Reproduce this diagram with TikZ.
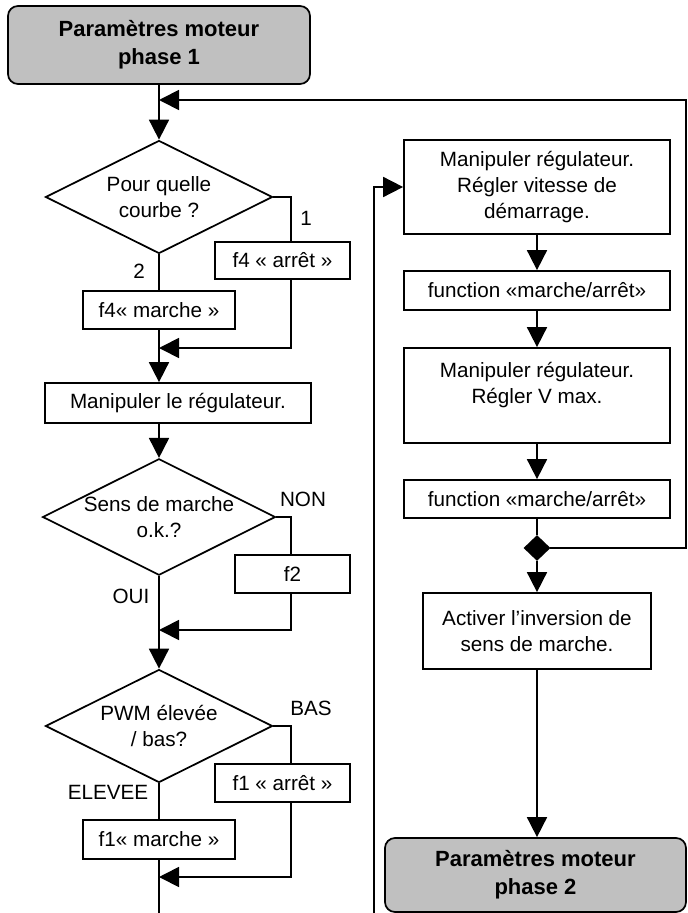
\documentclass[tikz,border=0pt]{standalone}
\usepackage{fontspec}
\setmainfont{Liberation Sans}
\usetikzlibrary{shapes.geometric,arrows.meta}
\definecolor{titlegray}{RGB}{192,192,192}
\begin{document}
\begin{tikzpicture}[x=0.75pt,y=-0.75pt,
  line width=1.3pt,
  txt/.style={font=\fontsize{15.5}{19.5}\selectfont, align=center},
  bx/.style 2 args={draw, rectangle, txt, inner sep=0pt, minimum width=#1*0.75pt, minimum height=#2*0.75pt},
  title/.style 2 args={draw, rectangle, rounded corners=7.5pt, fill=titlegray, inner sep=0pt, align=center,
     font=\fontsize{16.5}{21}\selectfont\bfseries, minimum width=#1*0.75pt, minimum height=#2*0.75pt},
  dec/.style={draw, diamond, aspect=2, txt, inner sep=0pt, minimum width=227*0.75pt, minimum height=113*0.75pt},
  lbl/.style={txt, inner sep=0pt},
  arr/.style={-{Triangle[length=15pt,width=15pt]}}
]
\useasboundingbox (0,0) rectangle (687,913);

% left column
\node[title={302}{78}] (p1) at (159,45) {Paramètres moteur\\phase 1};
\node[dec] (d1) at (159,197) {Pour quelle\\courbe ?};
\node[bx={135}{37}] (a1) at (282.5,260.5) {f4 « arrêt »};
\node[bx={152}{38}] (m1) at (159,310) {f4« marche »};
\node[bx={266}{40}] (r1) at (178,403) {Manipuler le régulateur.};
\node[dec] (d2) at (159,517) {Sens de marche\\o.k.?};
\node[bx={115}{38}] (f2) at (292.5,574) {f2};
\node[dec] (d3) at (159,726) {PWM élevée\\/ bas?};
\node[bx={135}{38}] (a3) at (282.5,783) {f1 « arrêt »};
\node[bx={152}{39}] (m3) at (159,839.5) {f1« marche »};

% labels
\node[lbl] (l1) at (306,218) {1};
\node[lbl] (l2) at (139,271) {2};
\node[lbl] (lnon) at (303,499) {NON};
\node[lbl] (loui) at (131,596) {OUI};
\node[lbl] (lbas) at (311,708) {BAS};
\node[lbl] (lelev) at (108,792) {ELEVEE};

% right column
\node[bx={266}{94}] (b1) at (537,187) {Manipuler régulateur.\\Régler vitesse de\\démarrage.};
\node[bx={266}{39}] (b2) at (537,290.5) {function «marche/arrêt»};
\node[bx={266}{95}] (b3) at (537,395.5) {Manipuler régulateur.\\Régler V max.\\~};
\node[bx={266}{38}] (b4) at (537,499) {function «marche/arrêt»};
\node[draw, diamond, fill=black, inner sep=0pt, minimum width=25*0.75pt, minimum height=24*0.75pt] (jd) at (537,548) {};
\node[bx={228}{76}] (b5) at (537,631) {Activer l’inversion de\\sens de marche.};
\node[title={301}{74}] (p2) at (535.5,875) {Paramètres moteur\\phase 2};

% helper coordinates
\coordinate (colR) at (291,0);
\coordinate (lp) at (159,100);
\coordinate (loopR) at (686,100);
\coordinate (j1) at (159,348);
\coordinate (j2) at (159,630);
\coordinate (j3) at (159,877);
\coordinate (endL) at (159,913);
\coordinate (endR) at (374,913);

% left connectors
\draw[arr] (p1.south) -- (d1.north);
\draw (d1.east) -| (colR |- a1.north);
\draw (d1.south) -- (m1.north);
\draw[arr] (colR |- a1.south) |- (j1);
\draw[arr] (m1.south) -- (m1.south |- r1.north);
\draw[arr] (d2.north |- r1.south) -- (d2.north);
\draw (d2.east) -| (colR |- f2.north);
\draw[arr] (colR |- f2.south) |- (j2);
\draw[arr] (d2.south) -- (d3.north);
\draw (d3.east) -| (colR |- a3.north);
\draw (d3.south) -- (m3.north);
\draw[arr] (colR |- a3.south) |- (j3);
\draw (m3.south) -- (endL);

% right connectors
\draw[arr] (endR) |- (b1.west);
\draw[arr] (b1.south) -- (b2.north);
\draw[arr] (b2.south) -- (b3.north);
\draw[arr] (b3.south) -- (b4.north);
\draw (b4.south) -- (jd.north);
\draw[arr] (jd.south) -- (b5.north);
\draw[arr] (b5.south) -- (b5.south |- p2.north);
\draw[arr] (jd.east) -| (loopR) -- (lp);
\end{tikzpicture}
\end{document}
